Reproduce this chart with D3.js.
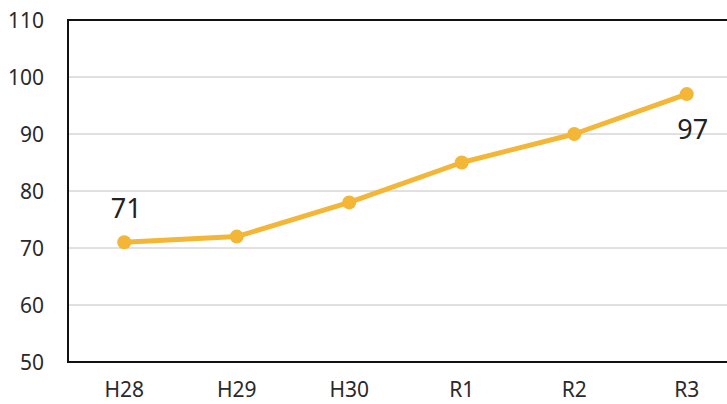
<!DOCTYPE html>
<html>
<head>
<meta charset="utf-8">
<script src="https://cdn.jsdelivr.net/npm/d3@7"></script>
<style>
  html, body { margin: 0; padding: 0; background: #fff; }
  svg { display: block; }
  text { font-family: "Noto Sans", "Open Sans", sans-serif; }
</style>
</head>
<body>
<svg id="chart" width="727" height="404"></svg>
<script>
// Yearly values, H28 through R3
const categories = ["H28", "H29", "H30", "R1", "R2", "R3"];
const values = [71, 72, 78, 85, 90, 97];
const yTicks = [50, 60, 70, 80, 90, 100, 110];
const labelledIndices = [0, 5];

const svg = d3.select("#chart");
const margin = { left: 68, top: 20, bottom: 42 };
const plotRight = 743;
const height = 404;

const x = d3.scaleBand()
  .domain(categories)
  .range([margin.left, plotRight])
  .padding(0);

const y = d3.scaleLinear()
  .domain([50, 110])
  .range([height - margin.bottom, margin.top]);

// horizontal gridlines
svg.append("g")
  .selectAll("line")
  .data(yTicks.filter(t => t > 50 && t < 110))
  .join("line")
  .attr("x1", margin.left)
  .attr("x2", plotRight)
  .attr("y1", d => y(d))
  .attr("y2", d => y(d))
  .attr("stroke", "#c2c2c2")
  .attr("stroke-width", 1);

// y axis labels
const yAxis = d3.axisLeft(y).tickValues(yTicks).tickSize(0).tickPadding(24);
svg.append("g")
  .attr("transform", `translate(${margin.left},0)`)
  .call(yAxis)
  .call(g => g.select(".domain").remove())
  .call(g => g.selectAll("text")
    .attr("font-size", 21)
    .attr("dy", "0.34em")
    .attr("fill", "#2a2a2a"));

// x axis labels
const xAxis = d3.axisBottom(x).tickSize(0).tickPadding(20);
svg.append("g")
  .attr("transform", `translate(0,${y(50)})`)
  .call(xAxis)
  .call(g => g.select(".domain").remove())
  .call(g => g.selectAll("text")
    .attr("font-size", 21)
    .attr("fill", "#2a2a2a"));

// plot frame: left, top, bottom
svg.append("path")
  .attr("d", `M${plotRight},${y(110)} H${margin.left} V${y(50)} H${plotRight}`)
  .attr("fill", "none")
  .attr("stroke", "#111")
  .attr("stroke-width", 2);

const cx = d => x(d) + x.bandwidth() / 2;
const color = "#f3b636";

const line = d3.line()
  .x((d, i) => cx(categories[i]))
  .y(d => y(d));

svg.append("path")
  .datum(values)
  .attr("d", line)
  .attr("fill", "none")
  .attr("stroke", color)
  .attr("stroke-width", 5)
  .attr("stroke-linejoin", "round");

svg.append("g")
  .selectAll("circle")
  .data(values)
  .join("circle")
  .attr("cx", (d, i) => cx(categories[i]))
  .attr("cy", d => y(d))
  .attr("r", 7)
  .attr("fill", color);

// value labels on the first and last points
svg.append("g")
  .selectAll("text")
  .data(labelledIndices)
  .join("text")
  .attr("x", i => cx(categories[i]) + (i === 0 ? 2 : 6))
  .attr("y", i => i === 0 ? y(values[i]) - 24 : y(values[i]) + 45)
  .attr("text-anchor", "middle")
  .attr("font-size", 27)
  .attr("fill", "#222")
  .text(i => values[i]);
</script>
</body>
</html>
